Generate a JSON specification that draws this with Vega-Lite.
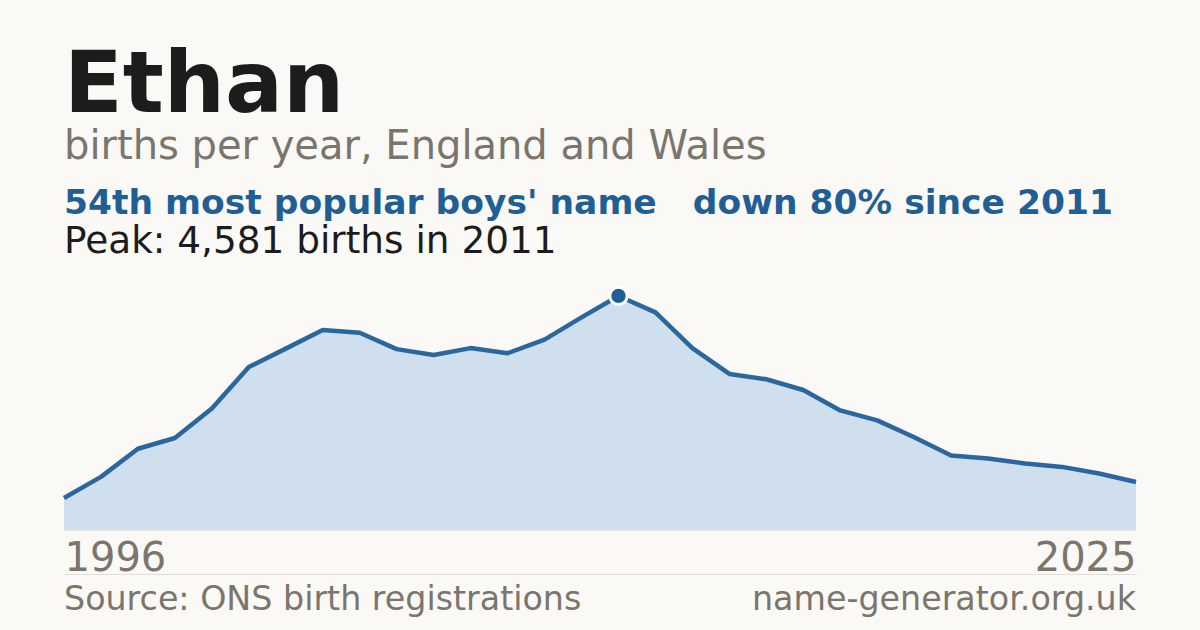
{
  "$schema": "https://vega.github.io/schema/vega-lite/v6.json",
  "description": "Ethan - births per year, England and Wales",
  "width": 1072,
  "height": 350,
  "autosize": "none",
  "padding": {"left": 64, "right": 64, "top": 180, "bottom": 100},
  "background": "#faf9f5",
  "title": {
    "text": "Ethan",
    "subtitle": "births per year, England and Wales",
    "anchor": "start",
    "frame": "group",
    "font": "DejaVu Sans",
    "fontSize": 86,
    "fontWeight": "bold",
    "color": "#1c1c1c",
    "subtitleFont": "DejaVu Sans",
    "subtitleFontSize": 40,
    "subtitleColor": "#7a756d",
    "subtitlePadding": -3,
    "offset": 12
  },
  "datasets": {
    "births": [
      {"year": 1996, "births": 625},
      {"year": 1997, "births": 1040},
      {"year": 1998, "births": 1590},
      {"year": 1999, "births": 1800},
      {"year": 2000, "births": 2380},
      {"year": 2001, "births": 3190},
      {"year": 2002, "births": 3550},
      {"year": 2003, "births": 3915},
      {"year": 2004, "births": 3860},
      {"year": 2005, "births": 3540},
      {"year": 2006, "births": 3425},
      {"year": 2007, "births": 3560},
      {"year": 2008, "births": 3460},
      {"year": 2009, "births": 3725},
      {"year": 2010, "births": 4160},
      {"year": 2011, "births": 4581},
      {"year": 2012, "births": 4260},
      {"year": 2013, "births": 3560},
      {"year": 2014, "births": 3055},
      {"year": 2015, "births": 2950},
      {"year": 2016, "births": 2740},
      {"year": 2017, "births": 2340},
      {"year": 2018, "births": 2145},
      {"year": 2019, "births": 1815},
      {"year": 2020, "births": 1460},
      {"year": 2021, "births": 1400},
      {"year": 2022, "births": 1300},
      {"year": 2023, "births": 1235},
      {"year": 2024, "births": 1105},
      {"year": 2025, "births": 940}
    ],
    "notes": [
      {"note": "rank", "label": "54th most popular boys' name\u00a0\u00a0\u00a0down 80% since 2011"},
      {"note": "peak", "label": "Peak: 4,581 births in 2011"},
      {"note": "source", "label": "Source: ONS birth registrations"},
      {"note": "site", "label": "name-generator.org.uk"}
    ]
  },
  "layer": [
    {
      "data": {"name": "births"},
      "mark": {"type": "area", "color": "#cfdfee"},
      "encoding": {
        "x": {
          "field": "year",
          "type": "quantitative",
          "scale": {"domain": [1996, 2025], "nice": false, "zero": false},
          "axis": {
            "values": [1996, 2025],
            "format": "d",
            "title": null,
            "grid": false,
            "ticks": false,
            "labelFlush": true,
            "labelBaseline": "alphabetic",
            "labelPadding": -4,
            "labelFont": "DejaVu Sans",
            "labelFontSize": 40,
            "labelColor": "#7a756d",
            "offset": 44,
            "domainColor": "#e0ddd6",
            "domainWidth": 1
          }
        },
        "y": {
          "field": "births",
          "type": "quantitative",
          "scale": {"domain": [0, 6850], "nice": false},
          "axis": null
        }
      }
    },
    {
      "data": {"name": "births"},
      "transform": [{"filter": "datum.year == 1996"}],
      "mark": {"type": "rule", "color": "#e0ddd6", "strokeWidth": 1},
      "encoding": {
        "x": {"datum": 1996, "type": "quantitative"},
        "x2": {"datum": 2025},
        "y": {"datum": 0, "type": "quantitative"}
      }
    },
    {
      "data": {"name": "births"},
      "mark": {"type": "line", "color": "#2a679e", "strokeWidth": 4.5, "strokeJoin": "round"},
      "encoding": {
        "x": {"field": "year", "type": "quantitative"},
        "y": {"field": "births", "type": "quantitative"}
      }
    },
    {
      "data": {"name": "births"},
      "transform": [{"filter": "datum.year == 2011"}],
      "mark": {"type": "point", "shape": "circle", "filled": true, "size": 300, "color": "#1f5f96", "stroke": "#ffffff", "strokeWidth": 3, "opacity": 1},
      "encoding": {
        "x": {"field": "year", "type": "quantitative"},
        "y": {"field": "births", "type": "quantitative"}
      }
    },
    {
      "data": {"name": "notes"},
      "transform": [{"filter": "datum.note == 'rank'"}],
      "mark": {"type": "text", "align": "left", "baseline": "alphabetic", "font": "DejaVu Sans", "fontSize": 34.5, "fontWeight": "bold", "color": "#1f5f96"},
      "encoding": {
        "x": {"datum": 1996, "type": "quantitative"},
        "y": {"datum": 6185, "type": "quantitative"},
        "text": {"field": "label"}
      }
    },
    {
      "data": {"name": "notes"},
      "transform": [{"filter": "datum.note == 'peak'"}],
      "mark": {"type": "text", "align": "left", "baseline": "alphabetic", "font": "DejaVu Sans", "fontSize": 37.4, "color": "#1c1c1c"},
      "encoding": {
        "x": {"datum": 1996, "type": "quantitative"},
        "y": {"datum": 5421, "type": "quantitative"},
        "text": {"field": "label"}
      }
    },
    {
      "data": {"name": "notes"},
      "transform": [{"filter": "datum.note == 'source'"}],
      "mark": {"type": "text", "align": "left", "baseline": "alphabetic", "font": "DejaVu Sans", "fontSize": 33.3, "color": "#7a756d"},
      "encoding": {
        "x": {"datum": 1996, "type": "quantitative"},
        "y": {"datum": -1560, "type": "quantitative"},
        "text": {"field": "label"}
      }
    },
    {
      "data": {"name": "notes"},
      "transform": [{"filter": "datum.note == 'site'"}],
      "mark": {"type": "text", "align": "right", "baseline": "alphabetic", "font": "DejaVu Sans", "fontSize": 33.3, "color": "#7a756d"},
      "encoding": {
        "x": {"datum": 2025, "type": "quantitative"},
        "y": {"datum": -1560, "type": "quantitative"},
        "text": {"field": "label"}
      }
    }
  ],
  "config": {
    "view": {"stroke": null}
  }
}
